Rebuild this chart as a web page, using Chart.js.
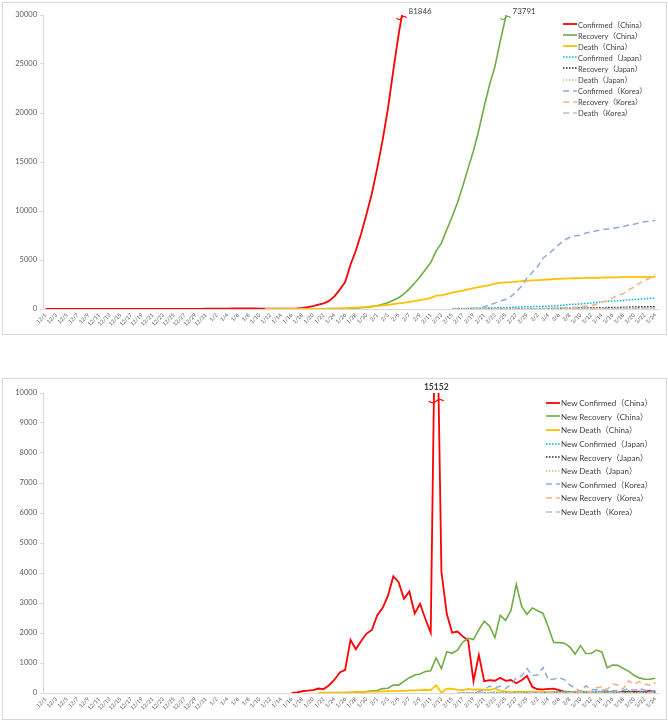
<!DOCTYPE html>
<html><head><meta charset="utf-8">
<script src="https://cdn.jsdelivr.net/npm/chart.js@4.4.1/dist/chart.umd.min.js"></script>
<style>
body{margin:0;background:#fff;width:668px;height:722px;overflow:hidden;position:relative;font-family:Lato,'Noto Sans CJK SC',sans-serif;}
.frame{position:absolute;border:1px solid #d9d9d9;box-sizing:border-box;}
canvas{position:absolute;left:0;}
.legend{position:absolute;color:#404040;}
.legend .row{display:flex;align-items:center;white-space:nowrap;}
.legend svg{flex:none;margin-right:1px;}
</style></head><body>
<div class="frame" style="left:2px;top:2px;width:665px;height:333px"></div>
<div class="frame" style="left:2px;top:378px;width:665px;height:342px"></div>
<canvas id="c1" width="668" height="334" style="top:0"></canvas>
<canvas id="c2" width="668" height="341" style="top:378px"></canvas>
<div id="lg1" class="legend"></div>
<div id="lg2" class="legend"></div>
<script>
// ---------- categories ----------
const dates = [
 '12/1','12/2','12/3','12/4','12/5','12/6','12/7','12/8','12/9','12/10','12/11','12/12','12/13','12/14','12/15','12/16','12/17','12/18','12/19','12/20','12/21','12/22','12/23','12/24','12/25','12/26','12/27','12/28','12/29','12/30','12/31',
 '1/1','1/2','1/3','1/4','1/5','1/6','1/7','1/8','1/9','1/10','1/11','1/12','1/13','1/14','1/15','1/16','1/17','1/18','1/19','1/20','1/21','1/22','1/23','1/24','1/25','1/26','1/27','1/28','1/29','1/30','1/31',
 '2/1','2/2','2/3','2/4','2/5','2/6','2/7','2/8','2/9','2/10','2/11','2/12','2/13','2/14','2/15','2/16','2/17','2/18','2/19','2/20','2/21','2/22','2/23','2/24','2/25','2/26','2/27','2/28','2/29',
 '3/1','3/2','3/3','3/4','3/5','3/6','3/7','3/8','3/9','3/10','3/11','3/12','3/13','3/14','3/15','3/16','3/17','3/18','3/19','3/20','3/21','3/22','3/23','3/24'
];

// ---------- series names ----------
const namesTotal = ['Confirmed（China）','Recovery（China）','Death（China）','Confirmed（Japan）','Recovery（Japan）','Death（Japan）','Confirmed（Korea）','Recovery（Korea）','Death（Korea）'];
const namesNew = ['New Confirmed（China）','New Recovery（China）','New Death（China）','New Confirmed（Japan）','New Recovery（Japan）','New Death（Japan）','New Confirmed（Korea）','New Recovery（Korea）','New Death（Korea）'];

// ---------- cumulative series (start date, values) ----------
const chinaConfirmedStart = '12/1';
const chinaConfirmed = [0,0,0,0,0,0,0,0,0,0,0,0,0,0,0,0,0,0,0,0,0,0,0,0,0,0,0,0,0,0,27,
 27,27,44,44,59,59,59,59,59,41,41,41,41,41,41,45,62,121,198,291,440,571,830,1287,1975,2744,4515,5974,7711,9692,11791,
 14380,17205,20438,24324,28018,31161,34546,37198,40171,42638,44653,59804,63851,66492,68500,70548,72436,74185,74576,75465,76288,76936,77150,77658,78064,78497,78824,79251,79824,
 80026,80151,80270,80409,80552,80651,80695,80735,80754,80778,80793,80813,80824,80844,80860,80881,80894,80928,80967,81008,81054,81093,81171,81218];
const chinaRecoveryStart = '1/20';
const chinaRecovery = [25,28,28,34,38,49,51,60,103,124,171,243,
 328,475,632,892,1153,1540,2050,2649,3281,3996,4740,5911,6723,8096,9419,10844,12552,14376,16155,18264,20659,22888,24734,27323,29745,32495,36117,39002,41625,
 44462,47204,49856,52045,53726,55404,57065,58600,59897,61475,62793,64111,65541,66911,67749,68679,69601,70420,71150,71740,72244,72703,73159,73650];
const chinaDeathStart = '1/11';
const chinaDeath = [1,1,1,1,2,2,2,3,3,6,9,17,25,41,56,80,106,132,170,213,259,
 304,361,425,490,563,636,722,811,908,1016,1113,1367,1380,1523,1665,1770,1868,2004,2118,2236,2345,2442,2592,2663,2715,2744,2788,2835,2870,
 2912,2943,2981,3012,3042,3070,3097,3119,3136,3158,3169,3176,3189,3199,3213,3226,3237,3245,3248,3255,3261,3270,3277,3281];
const otherStart = '2/15';
const japanConfirmed = [43,53,59,66,74,84,94,105,132,144,157,164,186,210,230,
 243,254,268,284,317,349,408,455,488,514,568,620,675,716,780,814,829,873,950,963,1007,1046,1089,1128];
const japanRecovery = [12,12,12,17,18,18,18,22,22,22,22,22,22,22,32,
 32,32,43,43,43,76,76,76,76,102,102,118,118,118,144,144,144,191,191,215,215,232,232,235];
const japanDeath = [1,1,1,1,1,1,1,1,1,1,1,2,3,4,5,
 5,6,6,6,6,6,6,8,9,12,15,19,21,22,24,24,27,29,32,33,35,41,42,43];
const koreaConfirmed = [28,29,30,31,51,104,204,433,602,833,977,1261,1766,2337,3150,
 3736,4335,5186,5621,6088,6593,7041,7314,7478,7513,7755,7869,7979,8086,8162,8236,8320,8413,8565,8652,8799,8897,8961,9037];
const koreaRecovery = [9,9,10,12,16,16,16,16,18,18,22,22,22,22,27,
 30,30,30,41,88,108,118,130,166,247,288,333,510,714,834,1137,1407,1540,1947,2233,2612,2909,3166,3507];
const koreaDeath = [0,0,0,0,0,1,2,2,6,8,11,12,13,16,17,
 21,28,32,35,42,44,50,51,54,60,66,67,72,75,75,81,84,91,94,102,104,104,111,120];

// ---------- daily new series ----------
const newChinaConfirmedStart = '1/16';
const newChinaConfirmed = [4,17,59,77,93,149,131,259,444,688,769,1771,1459,1737,1982,2102,
 2590,2829,3235,3887,3694,3143,3385,2652,2973,2467,2015,15152,4050,2641,2009,2048,1886,1749,394,1270,397,430,409,508,406,433,327,427,573,
 202,125,119,139,143,99,44,40,19,24,15,8,11,20,16,21,13,34,39,41,46,39,78,47];
const newChinaRecoveryStart = '1/21';
const newChinaRecovery = [3,0,6,4,11,2,9,43,21,47,72,
 85,147,157,262,261,387,510,600,632,716,744,1171,812,1373,1323,1425,1701,1824,1779,2109,2393,2231,1846,2589,2422,2750,3622,2885,2623,
 2837,2742,2652,2189,1681,1678,1661,1535,1297,1578,1318,1318,1430,1370,838,930,922,819,730,590,504,459,456,491];
const newChinaDeathStart = '1/21';
const newChinaDeath = [3,8,8,16,15,24,26,26,38,43,46,
 45,57,64,65,73,73,86,89,97,108,97,254,13,143,142,105,98,136,114,118,109,97,150,71,52,29,44,47,35,
 42,31,38,31,30,28,27,22,17,22,11,7,13,10,14,13,11,8,3,7,6,9,7,4];
const newOtherStart = '2/16';
const newJapanConfirmed = [10,6,7,8,10,10,11,27,12,13,7,22,24,20,
 13,11,14,16,33,32,59,47,33,26,54,52,55,41,64,34,15,44,77,13,44,39,43,39];
const newJapanRecovery = [0,0,5,1,0,0,4,0,0,0,0,0,0,10,
 0,0,11,0,0,33,0,0,0,26,0,16,0,0,26,0,0,47,0,24,0,17,0,3];
const newJapanDeath = [0,0,0,0,0,0,0,0,0,0,1,1,1,1,
 0,1,0,0,0,0,0,2,1,3,3,4,2,1,2,0,3,2,3,1,2,6,1,1];
const newKoreaConfirmed = [1,1,1,20,53,100,229,169,231,144,284,505,571,813,
 586,599,851,435,467,505,448,273,164,35,242,114,110,107,76,74,84,93,152,87,147,98,64,76];
const newKoreaRecovery = [0,1,2,4,0,0,0,2,0,4,0,0,0,5,
 3,0,0,11,47,20,10,12,36,81,41,45,177,204,120,303,270,133,407,286,379,297,257,341];
const newKoreaDeath = [0,0,0,0,1,1,0,4,2,3,1,1,3,1,
 4,7,4,3,7,2,6,1,3,6,6,1,5,3,0,6,3,7,3,8,2,0,7,9];

// ---------- axis ticks / annotations ----------
const topTicks = [0,5000,10000,15000,20000,25000,30000];
const bottomTicks = [0,1000,2000,3000,4000,5000,6000,7000,8000,9000,10000];
const topBreakLabels = ['81846','73791'];
const bottomBreakLabels = ['15152'];

// ---------- styles ----------
const colors = ['#FF0000','#70AD47','#FFC000','#00B0F0','#262626','#A9D18E','#8FAADC','#F4B183','#BFBFBF'];
const dashes = [[],[],[],[1.5,1.5],[1.5,1.5],[1.5,1.5],[6,4],[6,4],[6,4]];
const widths = [1.8,1.6,1.8,1.5,1.5,1.5,1.5,1.5,1.5];

function place(start, vals){
  const out = new Array(dates.length).fill(null);
  const i0 = dates.indexOf(start);
  vals.forEach((v,k)=>{ out[i0+k] = v; });
  return out;
}
function makeSets(names, series){
  return series.map((d,i)=>({
    label: names[i], data: d, borderColor: colors[i], backgroundColor: colors[i],
    borderWidth: widths[i], borderDash: dashes[i], pointRadius: 0, pointHoverRadius: 0,
    tension: 0, fill: false, spanGaps: false, clip: 0, order: series.length - i,
    borderCapStyle: 'butt'
  }));
}

Chart.defaults.font.family = "Lato, 'Noto Sans CJK SC', sans-serif";
Chart.defaults.color = '#595959';

const breakPlugin = {
  id: 'breaks',
  afterDatasetsDraw(chart, args, opts){
    const {ctx, chartArea, scales} = chart;
    const x = scales.x, y = scales.y;
    (opts.items || []).forEach(it => {
      const data = chart.data.datasets[it.dataset].data;
      const lim = it.value;
      const xs = [];
      for (let i = 1; i < data.length; i++){
        const a = data[i-1], b = data[i];
        if (a == null || b == null) continue;
        if ((a < lim && b >= lim) || (a >= lim && b < lim)){
          const t = (lim - a) / (b - a);
          const p0 = x.getPixelForValue(i-1), p1 = x.getPixelForValue(i);
          xs.push(p0 + t * (p1 - p0));
        }
      }
      if (!xs.length) return;
      const xa = xs[0], xb = it.pair ? xs[Math.min(1, xs.length-1)] : xs[0];
      const yy = y.getPixelForValue(lim);
      ctx.save();
      ctx.strokeStyle = chart.data.datasets[it.dataset].borderColor;
      ctx.lineWidth = 1.2;
      ctx.beginPath();
      const x0 = xa - 5, w = (xb + 5) - x0;
      for (let s = 0; s <= 24; s++){
        const px = x0 + w * s / 24;
        const py = yy + 1.6 * Math.sin(s / 24 * Math.PI * 2);
        if (s === 0) ctx.moveTo(px, py); else ctx.lineTo(px, py);
      }
      ctx.stroke();
      ctx.fillStyle = '#404040';
      ctx.font = it.font;
      ctx.textBaseline = 'middle';
      if (it.pair){
        ctx.textAlign = 'center';
        ctx.fillText(it.label, (xa + xb) / 2, chartArea.top - 6);
      } else {
        ctx.textAlign = 'left';
        ctx.fillText(it.label, xa + 7, chartArea.top - 4);
      }
      ctx.restore();
    });
  }
};

function makeChart(id, sets, ticksList, pad, xHeight, breaks){
  const maxV = ticksList[ticksList.length-1];
  return new Chart(document.getElementById(id), {
    type: 'line',
    data: { labels: dates, datasets: sets },
    plugins: [breakPlugin],
    options: {
      responsive: false, animation: false, devicePixelRatio: 1,
      layout: { padding: pad },
      plugins: { legend: { display: false }, tooltip: { enabled: false }, breaks: { items: breaks } },
      scales: {
        x: {
          type: 'category', offset: true,
          grid: { display: false, drawTicks: false },
          border: { display: true, color: '#d9d9d9', width: 1 },
          ticks: { autoSkip: false, minRotation: 45, maxRotation: 45, padding: 3,
                   font: { size: 5.5 }, color: '#595959',
                   callback: (v, i) => (i % 2 === 0 ? dates[i] : '') },
          afterFit: s => { s.height = xHeight; }
        },
        y: {
          min: 0, max: maxV,
          afterBuildTicks: s => { s.ticks = ticksList.map(v => ({ value: v })); },
          grid: { drawOnChartArea: false, drawTicks: true, tickLength: 3, color: '#d9d9d9' },
          border: { display: true, color: '#d9d9d9', width: 1 },
          ticks: { padding: 3, font: { size: 7.5 }, color: '#595959', callback: v => String(v) },
          afterFit: s => { s.width = 43; }
        }
      }
    }
  });
}

const topSeries = [
  place(chinaConfirmedStart, chinaConfirmed), place(chinaRecoveryStart, chinaRecovery), place(chinaDeathStart, chinaDeath),
  place(otherStart, japanConfirmed), place(otherStart, japanRecovery), place(otherStart, japanDeath),
  place(otherStart, koreaConfirmed), place(otherStart, koreaRecovery), place(otherStart, koreaDeath)
];
const bottomSeries = [
  place(newChinaConfirmedStart, newChinaConfirmed), place(newChinaRecoveryStart, newChinaRecovery), place(newChinaDeathStart, newChinaDeath),
  place(newOtherStart, newJapanConfirmed), place(newOtherStart, newJapanRecovery), place(newOtherStart, newJapanDeath),
  place(newOtherStart, newKoreaConfirmed), place(newOtherStart, newKoreaRecovery), place(newOtherStart, newKoreaDeath)
];

const c1 = makeChart('c1', makeSets(namesTotal, topSeries), topTicks, {left:0, right:10, top:15, bottom:0}, 25, [
  { dataset: 0, value: 29700, label: topBreakLabels[0], font: '8px Lato' },
  { dataset: 1, value: 29700, label: topBreakLabels[1], font: '8px Lato' }
]);
const c2 = makeChart('c2', makeSets(namesNew, bottomSeries), bottomTicks, {left:0, right:10, top:15, bottom:0}, 26, [
  { dataset: 0, value: 9730, label: bottomBreakLabels[0], pair: true, font: 'bold 8.5px Lato' }
]);

function buildLegend(el, chart, o){
  el.style.left = o.left + 'px'; el.style.top = o.top + 'px'; el.style.fontSize = o.font + 'px';
  chart.data.datasets.forEach(ds => {
    const row = document.createElement('div');
    row.className = 'row'; row.style.height = o.row + 'px';
    const dash = (ds.borderDash || []).join(',');
    row.innerHTML = '<svg width="' + o.w + '" height="4"><line x1="0" y1="2" x2="' + o.w + '" y2="2" stroke="' + ds.borderColor +
      '" stroke-width="' + ds.borderWidth + '"' + (dash ? ' stroke-dasharray="' + dash + '"' : '') + '/></svg>';
    const sp = document.createElement('span'); sp.textContent = ds.label; row.appendChild(sp);
    el.appendChild(row);
  });
}
buildLegend(document.getElementById('lg1'), c1, { left: 563, top: 18.5, font: 7.5, row: 11.1, w: 14 });
buildLegend(document.getElementById('lg2'), c2, { left: 546, top: 396, font: 8, row: 13.6, w: 14 });
</script>
</body></html>
